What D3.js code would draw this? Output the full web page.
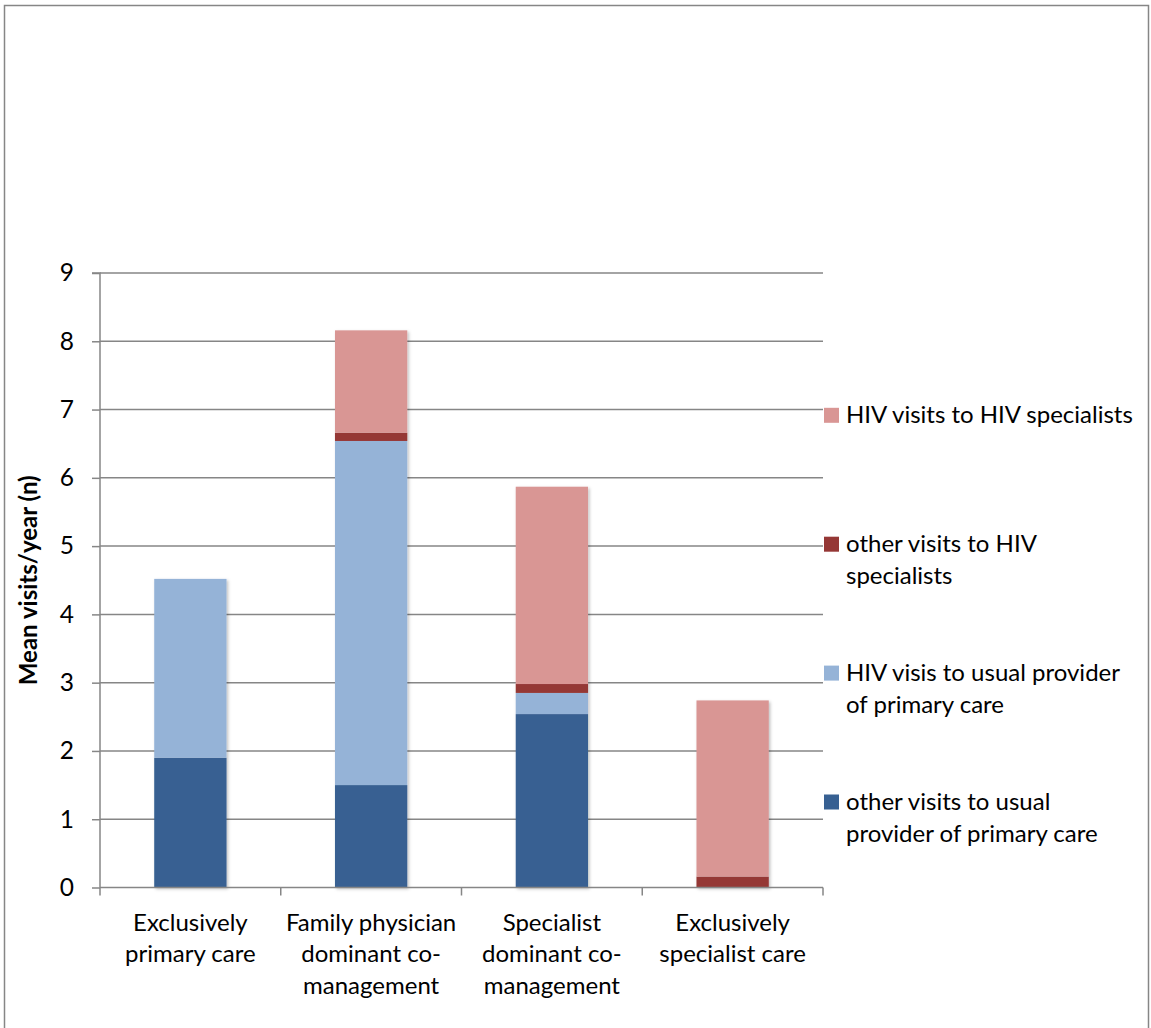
<!DOCTYPE html>
<html>
<head>
<meta charset="utf-8">
<script src="https://cdn.jsdelivr.net/npm/d3@7"></script>
<style>
  html, body { margin: 0; padding: 0; background: #fff; }
  svg { display: block; }
  text { font-family: Lato, "Open Sans", sans-serif; fill: #000; }
</style>
</head>
<body>
<svg id="chart" width="1151" height="1028"></svg>
<script>
// ---- data ----
const categories = [
  "Exclusively primary care",
  "Family physician dominant co-management",
  "Specialist dominant co-management",
  "Exclusively specialist care"
];
const categoryLines = [
  ["Exclusively", "primary care"],
  ["Family physician", "dominant co-", "management"],
  ["Specialist", "dominant co-", "management"],
  ["Exclusively", "specialist care"]
];
// bottom to top in each stacked bar
const seriesKeys = ["otherPrimary", "hivPrimary", "otherSpec", "hivSpec"];
const otherPrimary = [1.90, 1.50, 2.54, 0.00];
const hivPrimary   = [2.62, 5.04, 0.31, 0.00];
const otherSpec    = [0.00, 0.12, 0.13, 0.16];
const hivSpec      = [0.00, 1.50, 2.89, 2.58];
const seriesLabels = {
  hivSpec: ["HIV visits to HIV specialists"],
  otherSpec: ["other visits to HIV", "specialists"],
  hivPrimary: ["HIV visis to usual provider", "of primary care"],
  otherPrimary: ["other visits to usual", "provider of primary care"]
};
const seriesColors = {
  otherPrimary: "#376092",
  hivPrimary: "#95b3d7",
  otherSpec: "#953735",
  hivSpec: "#d99694"
};
const yTicks = [0, 1, 2, 3, 4, 5, 6, 7, 8, 9];
const yTitle = "Mean visits/year (n)";

// ---- build table ----
const table = categories.map((c, i) => ({
  cat: c,
  otherPrimary: otherPrimary[i],
  hivPrimary: hivPrimary[i],
  otherSpec: otherSpec[i],
  hivSpec: hivSpec[i]
}));

const svg = d3.select("#chart");
const plot = { left: 100, right: 823, top: 273, bottom: 887.5 };
const gridColor = "#868686";
const fontSize = 24;

// frame
svg.append("rect")
  .attr("x", 4.5).attr("y", 5.5)
  .attr("width", 1144).attr("height", 1100)
  .attr("fill", "none").attr("stroke", gridColor).attr("stroke-width", 1.5);

const x = d3.scaleBand().domain(categories)
  .range([plot.left, plot.right]).paddingInner(0.6).paddingOuter(0.3);
const y = d3.scaleLinear().domain([0, 9]).range([plot.bottom, plot.top]);

// shadow filter
const defs = svg.append("defs");
const f = defs.append("filter").attr("id", "shadow")
  .attr("x", "-20%").attr("y", "-20%").attr("width", "140%").attr("height", "140%");
f.append("feDropShadow").attr("dx", 1.5).attr("dy", 1.5)
  .attr("stdDeviation", 1.8).attr("flood-color", "#000").attr("flood-opacity", 0.25);

// gridlines
svg.append("g").selectAll("line").data(yTicks.filter(d => d > 0)).join("line")
  .attr("x1", plot.left).attr("x2", plot.right)
  .attr("y1", d => y(d)).attr("y2", d => y(d))
  .attr("stroke", gridColor).attr("stroke-width", 1.5);

// bars
const stack = d3.stack().keys(seriesKeys);
const stacked = stack(table);
const barG = svg.append("g").attr("filter", "url(#shadow)");
stacked.forEach(layer => {
  barG.append("g").attr("fill", seriesColors[layer.key])
    .selectAll("rect").data(layer).join("rect")
    .attr("x", d => x(d.data.cat))
    .attr("width", x.bandwidth())
    .attr("y", d => y(d[1]))
    .attr("height", d => Math.max(0, y(d[0]) - y(d[1])));
});

// y axis
const yAxis = d3.axisLeft(y).tickValues(yTicks).tickSize(8).tickPadding(18)
  .tickFormat(d3.format("d"));
const yg = svg.append("g").attr("transform", `translate(${plot.left},0)`).call(yAxis);
yg.select(".domain").attr("stroke", gridColor).attr("stroke-width", 1.5).attr("d", `M-8,${y(9)}H0V${y(0)}`);
yg.selectAll(".tick line").attr("stroke", gridColor).attr("stroke-width", 1.5);
yg.selectAll(".tick text").attr("font-size", fontSize + 0.5).attr("font-family", "Lato, sans-serif").attr("fill", "#000");

// x axis baseline & boundary ticks
svg.append("line")
  .attr("x1", plot.left).attr("x2", plot.right)
  .attr("y1", y(0)).attr("y2", y(0))
  .attr("stroke", gridColor).attr("stroke-width", 1.5);
const step = x.step();
const bounds = categories.map(c => x(c) - step * x.paddingOuter()).concat([plot.right]);
svg.append("g").selectAll("line").data(bounds).join("line")
  .attr("x1", d => d).attr("x2", d => d)
  .attr("y1", y(0)).attr("y2", y(0) + 8)
  .attr("stroke", gridColor).attr("stroke-width", 1.5);

// category labels
const catG = svg.append("g");
categories.forEach((c, i) => {
  const t = catG.append("text")
    .attr("x", x(c) + x.bandwidth() / 2)
    .attr("y", y(0) + 43)
    .attr("text-anchor", "middle")
    .attr("font-size", fontSize);
  categoryLines[i].forEach((ln, j) => {
    t.append("tspan").attr("x", x(c) + x.bandwidth() / 2)
      .attr("dy", j === 0 ? 0 : 31.5).text(ln);
  });
});

// y title
svg.append("text")
  .attr("transform", `translate(37,${(plot.top + plot.bottom) / 2}) rotate(-90)`)
  .attr("text-anchor", "middle")
  .attr("font-size", fontSize)
  .attr("font-weight", "bold")
  .text(yTitle);

// legend
const legendOrder = seriesKeys.slice().reverse();
const legendG = svg.append("g");
legendOrder.forEach((k, i) => {
  const base = 423.3 + i * 128.9;
  legendG.append("rect")
    .attr("x", 824).attr("y", base - 15.5)
    .attr("width", 15).attr("height", 15)
    .attr("fill", seriesColors[k]);
  const t = legendG.append("text").attr("x", 846).attr("y", base)
    .attr("font-size", fontSize);
  seriesLabels[k].forEach((ln, j) => {
    t.append("tspan").attr("x", 846).attr("dy", j === 0 ? 0 : 32).text(ln);
  });
});
</script>
</body>
</html>
